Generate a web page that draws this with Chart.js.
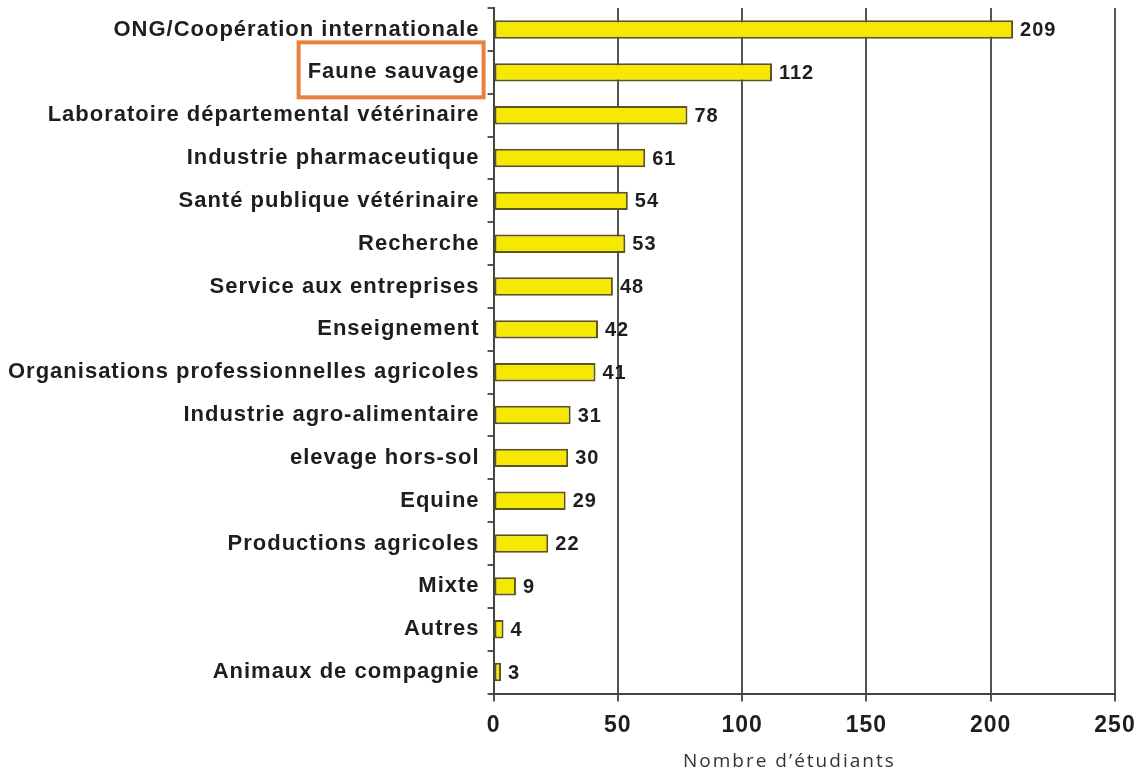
<!DOCTYPE html>
<html>
<head>
<meta charset="utf-8">
<script src="https://cdn.jsdelivr.net/npm/chart.js@4"></script>
<style>
  body { margin: 0; background: #fff; }
  #wrap { width: 1141px; height: 772px; }
</style>
</head>
<body>
<div id="wrap"><canvas id="chart"></canvas></div>
<script>
const categories = [
    'ONG/Coopération internationale',
    'Faune sauvage',
    'Laboratoire départemental vétérinaire',
    'Industrie pharmaceutique',
    'Santé publique vétérinaire',
    'Recherche',
    'Service aux entreprises',
    'Enseignement',
    'Organisations professionnelles agricoles',
    'Industrie agro-alimentaire',
    'elevage hors-sol',
    'Equine',
    'Productions agricoles',
    'Mixte',
    'Autres',
    'Animaux de compagnie'
];
const students = [209, 112, 78, 61, 54, 53, 48, 42, 41, 31, 30, 29, 22, 9, 4, 3];
const xTicks = [0, 50, 100, 150, 200, 250];
const highlighted = 'Faune sauvage';
const axisTitle = 'Nombre d\u2019étudiants';

const FONT = '"Liberation Sans", Arial, sans-serif';

// canvas resets its state on resize, so put the letter spacing back each time
const spacing = {
    id: 'spacing',
    beforeUpdate(chart) { chart.ctx.letterSpacing = '1px'; },
    beforeLayout(chart) { chart.ctx.letterSpacing = '1px'; },
    beforeDraw(chart) { chart.ctx.letterSpacing = '1px'; }
};

// value labels at the end of each bar, plus the axis title
const valueLabels = {
    id: 'valueLabels',
    afterDatasetsDraw(chart) {
        const ctx = chart.ctx;
        const meta = chart.getDatasetMeta(0);
        ctx.save();
        ctx.font = 'bold 20px ' + FONT;
        ctx.fillStyle = '#1e1e1e';
        ctx.textBaseline = 'middle';
        ctx.textAlign = 'left';
        meta.data.forEach((bar, i) => {
            ctx.fillText(students[i], bar.x + 7, bar.y + 1);
        });
        ctx.font = '19px "Open Sans", sans-serif';
        ctx.letterSpacing = '2px';
        ctx.fillStyle = '#333';
        ctx.textAlign = 'center';
        ctx.fillText(axisTitle, chart.scales.x.getPixelForValue(119), 762);
        ctx.restore();
    }
};

// orange frame round the highlighted category label
const frameLabel = {
    id: 'frameLabel',
    afterDraw(chart) {
        const ctx = chart.ctx;
        const y = chart.scales.y;
        const i = categories.indexOf(highlighted);
        const cy = y.getPixelForValue(i);
        ctx.save();
        ctx.font = 'bold 22px ' + FONT;
        const w = ctx.measureText(highlighted).width;
        const textRight = y.right - 14;
        ctx.strokeStyle = '#e8813c';
        ctx.lineWidth = 4;
        ctx.strokeRect(textRight - w - 9, cy - 30, w + 13, 55);
        ctx.restore();
    }
};

const ctx = document.querySelector('#chart').getContext('2d');
const chart = new Chart(ctx, {
    type: 'bar',
    data: {
        labels: categories,
        datasets: [{
            data: students,
            backgroundColor: '#f6e800',
            borderColor: '#5c5420',
            borderWidth: 2,
            borderSkipped: false,
            barPercentage: 0.43,
            categoryPercentage: 1
        }]
    },
    options: {
        indexAxis: 'y',
        responsive: true,
        maintainAspectRatio: false,
        animation: false,
        layout: { padding: { top: 1, right: 26, left: 0, bottom: 0 } },
        plugins: {
            legend: { display: false },
            tooltip: { enabled: false }
        },
        scales: {
            x: {
                min: 0,
                max: 250,
                afterBuildTicks(axis) {
                    axis.ticks = xTicks.map(v => ({ value: v }));
                },
                grid: {
                    color: '#555',
                    lineWidth: 2,
                    tickLength: 8,
                    tickColor: '#555'
                },
                border: { display: true, color: '#444', width: 2 },
                ticks: {
                    color: '#1e1e1e',
                    padding: 2,
                    font: { family: FONT, size: 23, weight: 'bold', lineHeight: 1.9 }
                },
                title: {
                    display: true,
                    text: axisTitle,
                    color: 'rgba(0,0,0,0)',
                    padding: { top: 0, bottom: 0 },
                    font: { family: '"Open Sans", sans-serif', size: 19 }
                }
            },
            y: {
                grid: {
                    drawOnChartArea: false,
                    tickLength: 6,
                    tickColor: '#555',
                    lineWidth: 2
                },
                border: { display: true, color: '#444', width: 2 },
                ticks: {
                    color: '#1e1e1e',
                    padding: 8,
                    font: { family: FONT, size: 22, weight: 'bold', lineHeight: 0.01 }
                }
            }
        }
    },
    plugins: [spacing, valueLabels, frameLabel]
});
</script>
</body>
</html>
